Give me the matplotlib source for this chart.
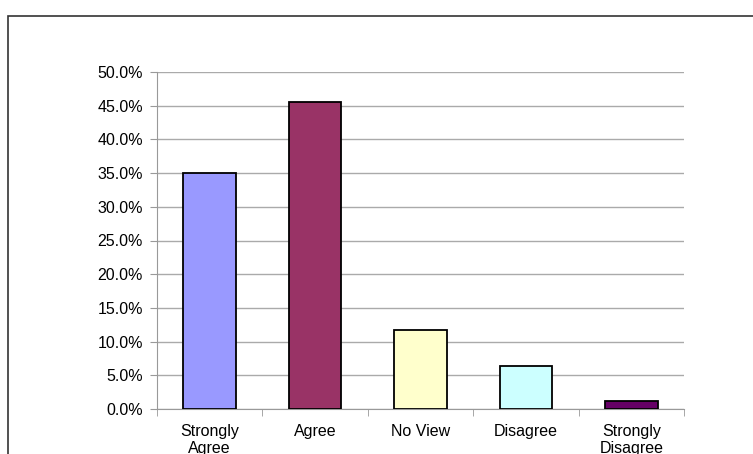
import matplotlib.pyplot as plt
import numpy as np
from matplotlib.patches import Rectangle
from matplotlib.ticker import FuncFormatter, FixedLocator

categories = ["Strongly\nAgree", "Agree", "No View", "Disagree", "Strongly\nDisagree"]
values = [35.0, 45.5, 11.7, 6.4, 1.2]
colors = ["#9999FF", "#993366", "#FFFFCC", "#CCFFFF", "#660066"]

plt.rcParams['font.family'] = ['Liberation Sans', 'DejaVu Sans']

fig = plt.figure(figsize=(7.53, 4.54), dpi=100)
ax = fig.add_axes([157/753, 1 - 409/454, (684 - 157)/753, (409 - 72)/454])

# outer chart border, cut off at right and bottom
fig.patches.append(Rectangle((8/753, -0.1), 1.2, 1 - 16/454 + 0.1, transform=fig.transFigure,
                             fill=False, edgecolor="#333333", linewidth=1.2))

x = np.arange(len(categories))
ax.bar(x, values, width=0.5, color=colors, edgecolor="black", linewidth=1.3, zorder=3)

ax.set_xlim(-0.5, len(categories) - 0.5)
ax.set_ylim(0, 50)
ax.set_yticks(np.arange(0, 50.1, 5))
ax.yaxis.set_major_formatter(FuncFormatter(lambda v, p: f"{v:.1f}%"))
ax.grid(axis="y", color="#AAAAAA", linewidth=1, zorder=0)

ax.set_xticks(x)
ax.set_xticklabels(categories, linespacing=1.15)
ax.xaxis.set_minor_locator(FixedLocator(np.arange(-0.5, len(categories), 1)))
ax.tick_params(axis="x", which="major", length=0, pad=11, labelsize=11.5)
ax.tick_params(axis="x", which="minor", length=5, color="#999999", direction="out")
ax.tick_params(axis="y", length=5, color="#999999", labelsize=11.5, pad=5)

for s in ["top", "right"]:
    ax.spines[s].set_visible(False)
for s in ["left", "bottom"]:
    ax.spines[s].set_color("#999999")

fig.savefig("out.png", dpi=100)
